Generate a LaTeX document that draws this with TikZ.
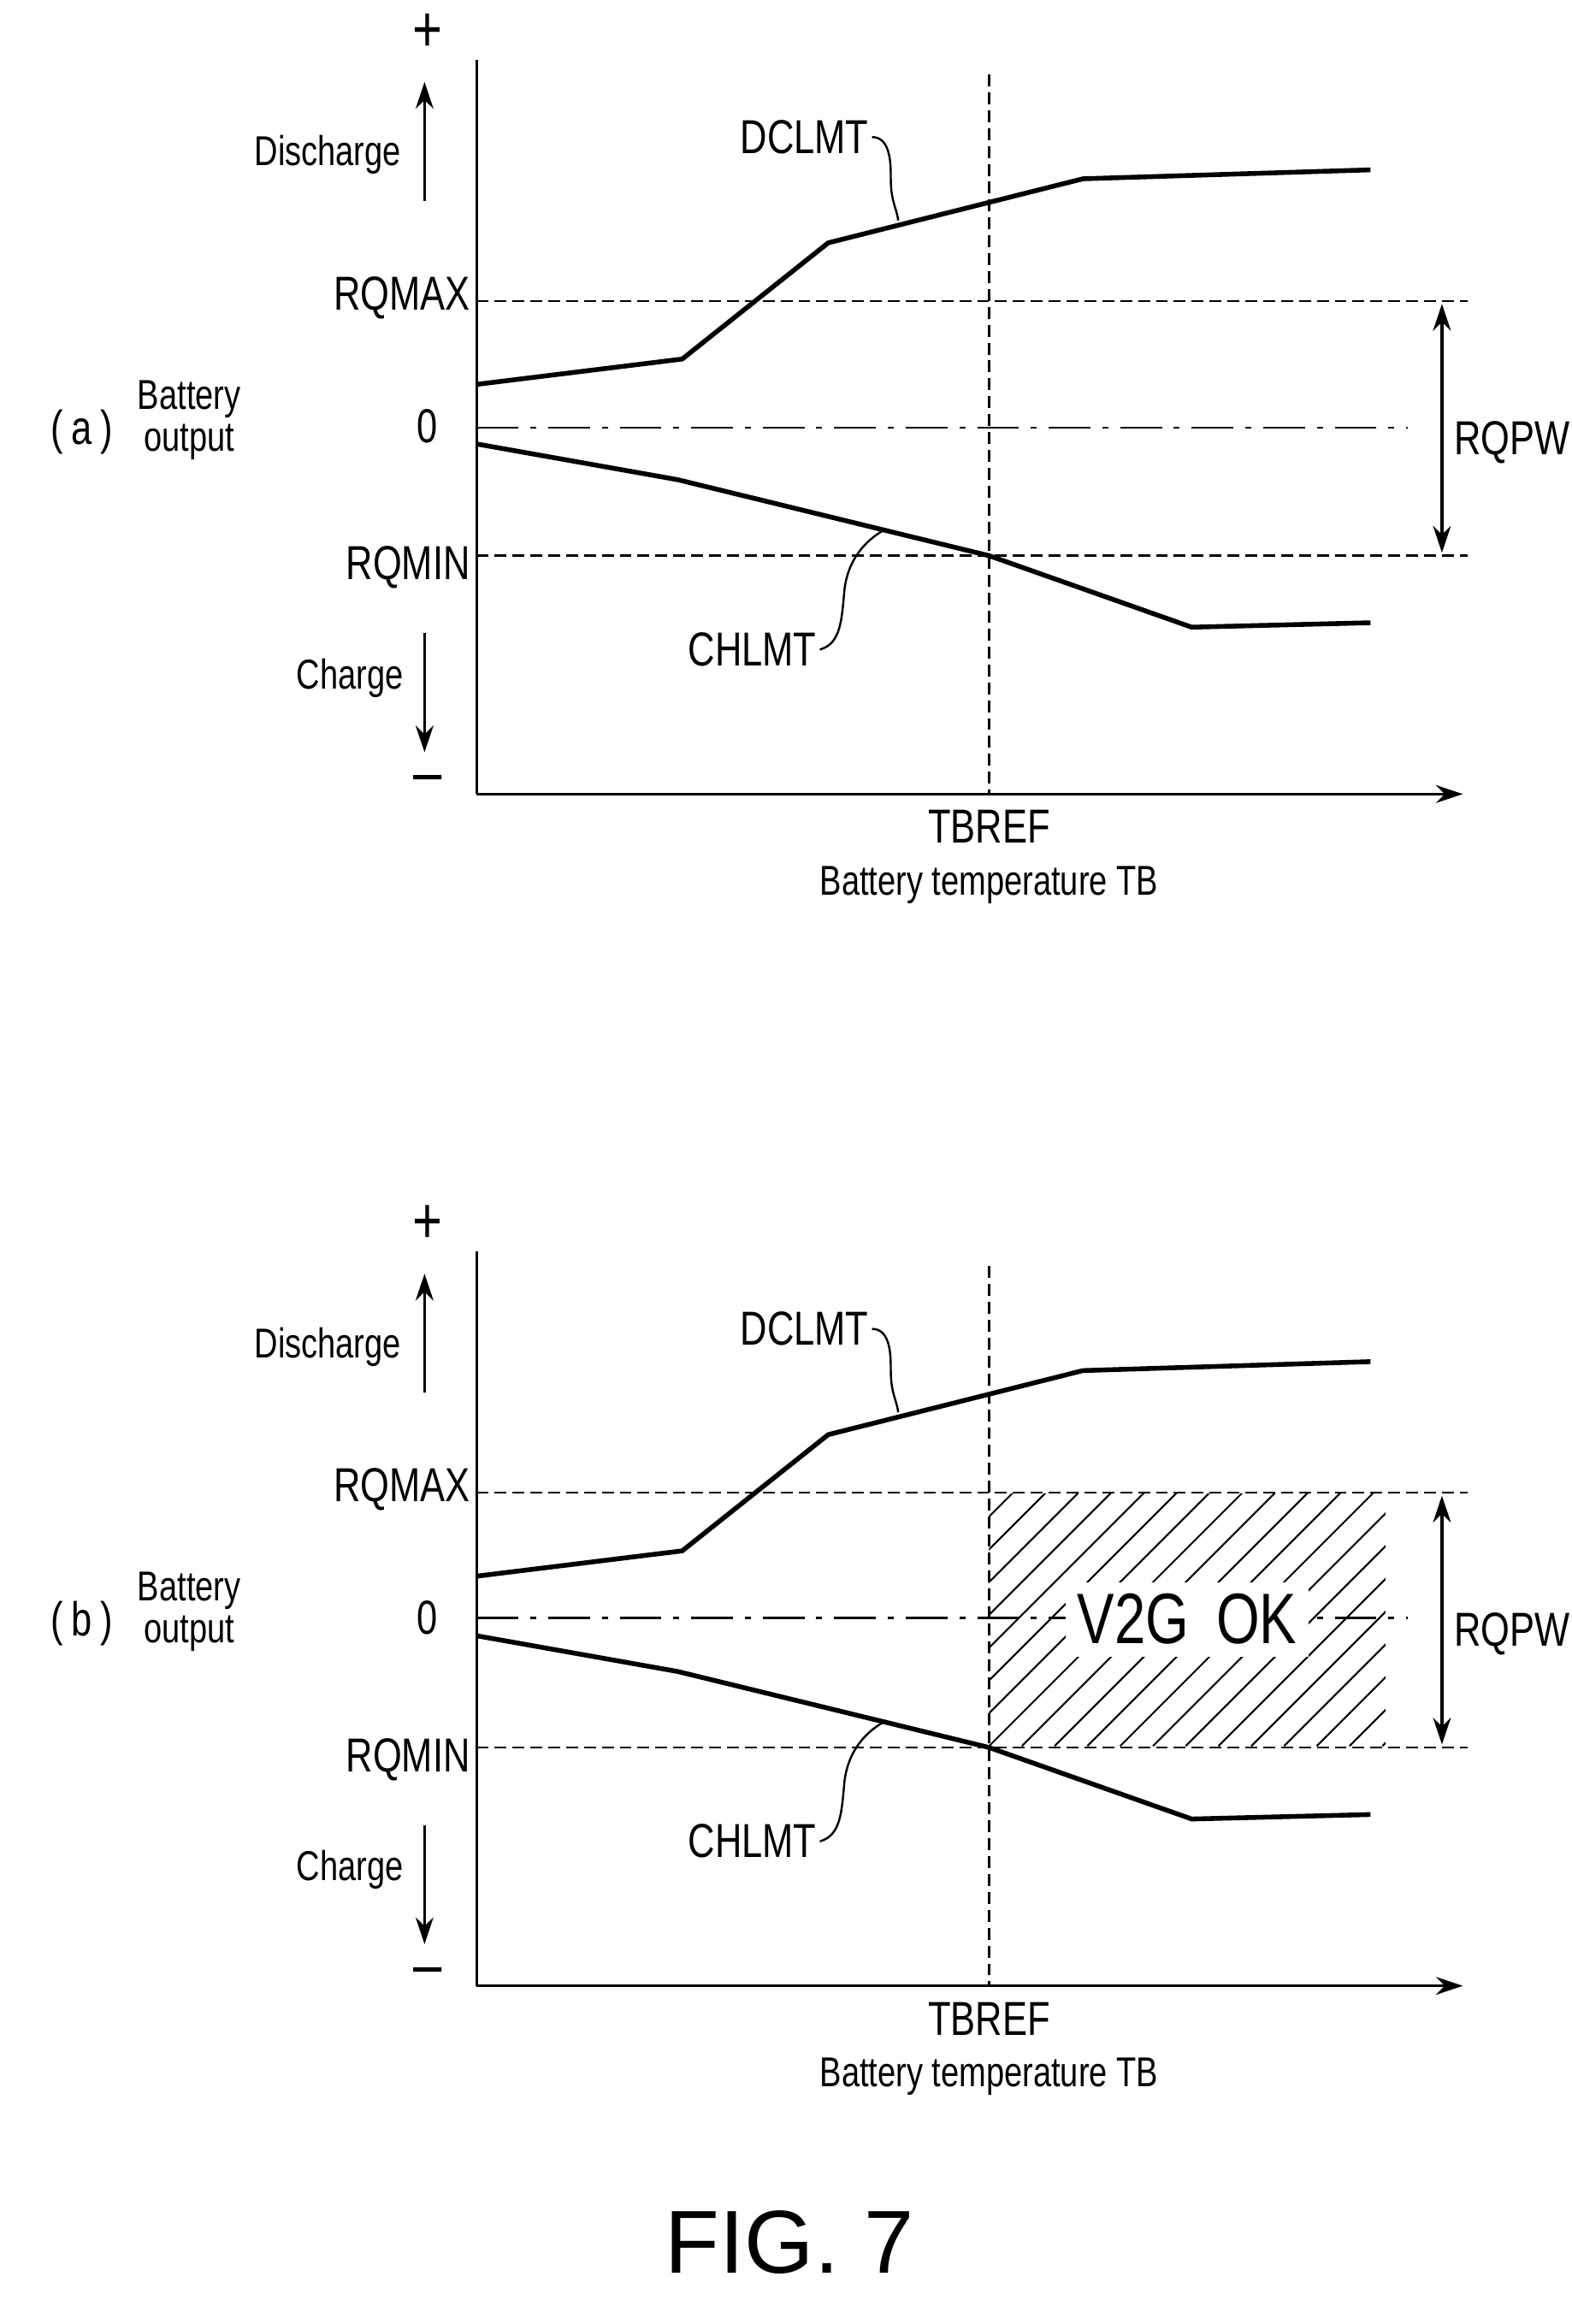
\documentclass[tikz,border=0pt]{standalone}
\usepackage{fontspec}
\setmainfont{Liberation Sans}[FakeStretch=0.78]
\newfontfamily\figfont{Liberation Sans}
\usetikzlibrary{arrows.meta}
\begin{document}
\begin{tikzpicture}[x=0.5pt,y=-0.5pt,
  lbl/.style={inner sep=1pt,font=\fontsize{16}{18}\selectfont},
  sml/.style={inner sep=1pt,font=\fontsize{14}{15}\selectfont,align=center},
  curve/.style={line width=1.6pt},
  axis/.style={line width=0.9pt},
  lead/.style={line width=0.7pt},
  dsh/.style={dashed,line width=0.7pt,dash pattern=on 4pt off 2pt},
  dd/.style={line width=0.7pt,dash pattern=on 14pt off 4pt on 2pt off 4pt},
  arr/.style={-{Stealth[length=9pt,width=6pt]},line width=0.9pt}]
\useasboundingbox (0,0) rectangle (1055,1560);
\foreach \o/\t in {0/a,800/b}{
\begin{scope}[yshift=-0.5pt*\o]
 \coordinate (o\t) at (320,533);
 \coordinate (xe\t) at (982,533);
 \coordinate (yt\t) at (320,40);
 \draw[axis] (yt\t) -- (o\t);
 \draw[arr] (o\t) -- (xe\t);
 \node[lbl] (plus\t) at (287,22) {\fontsize{22}{22}\selectfont +};
 \node[lbl] (minus\t) at (287,527) {\fontsize{22}{22}\selectfont --};
 \coordinate (da\t) at (285,135); \coordinate (db\t) at (285,55);
 \draw[arr] (da\t) -- (db\t);
 \coordinate (ca\t) at (285,425); \coordinate (cb\t) at (285,505);
 \draw[arr] (ca\t) -- (cb\t);
 \node[sml] (dis\t) at (220,104) {Discharge};
 \node[sml] (chg\t) at (235,455) {Charge};
 \coordinate (mx0\t) at (320,202); \coordinate (mx1\t) at (985,202);
 \draw[dsh] (mx0\t) -- (mx1\t);
 \coordinate (mn0\t) at (320,373); \coordinate (mn1\t) at (985,373);
 \draw[dsh] (mn0\t) -- (mn1\t);
 \coordinate (tb0\t) at (664,50); \coordinate (tb1\t) at (664,533);
 \draw[dsh] (tb0\t) -- (tb1\t);
 \node[lbl] (rqmax\t) at (270,200) {RQMAX};
 \node[lbl] (zero\t) at (287,286) {0};
 \node[lbl] (rqmin\t) at (274,381) {RQMIN};
 \node[lbl] (tbref\t) at (664,555) {TBREF};
 \node[sml] (bt\t) at (664,594) {Battery temperature TB};
 \node[lbl] (lab\t) at (55,290) {(\,\t\,)};
 \node[sml,font=\fontsize{14}{14}\selectfont] (bo\t) at (127,282) {Battery\\output};
 \draw[curve] (320,258) -- (458,241) -- (556,163) -- (727,120) -- (920,114);
 \draw[curve] (320,298) -- (455,322) -- (664,373) -- (800,421) -- (920,418);
 \node[lbl] (dc\t) at (540,92) {DCLMT};
 \draw[lead] (dc\t.east) .. controls (598,92) and (598,110) .. (598,120) .. controls (598,135) and (602,140) .. (603,148);
 \node[lbl] (ch\t) at (505,436) {CHLMT};
 \draw[lead] (ch\t.east) .. controls (565,432) and (565,415) .. (567,395) .. controls (570,372) and (585,360) .. (595,355);
 \coordinate (rp0\t) at (968,204); \coordinate (rp1\t) at (968,371);
 \draw[arr,{Stealth[length=9pt,width=6pt]}-{Stealth[length=9pt,width=6pt]}] (rp0\t) -- (rp1\t);
 \node[lbl] (rqpw\t) at (1015,297) {RQPW};
\end{scope}}
\coordinate (za0) at (320,287); \coordinate (za1) at (945,287);
\draw[dd] (za0) -- (za1);
\begin{scope}
 \clip (664,1003) rectangle (930,1172);
 \foreach \k in {-10,...,14}{ \draw[line width=0.6pt] (664+22*\k,1172) -- ++(180,-180); }
\end{scope}
\coordinate (zb0) at (320,1086); \coordinate (zb1) at (945,1086);
\draw[dd] (zb0) -- (zb1);
\node[fill=white,inner sep=4pt,font=\fontsize{24}{24}\selectfont] (v2g) at (797,1087) {V2G\, OK};
\node[font=\figfont\fontsize{30}{30}\selectfont] (fig) at (530,1505) {FIG. 7};
\end{tikzpicture}
\end{document}
